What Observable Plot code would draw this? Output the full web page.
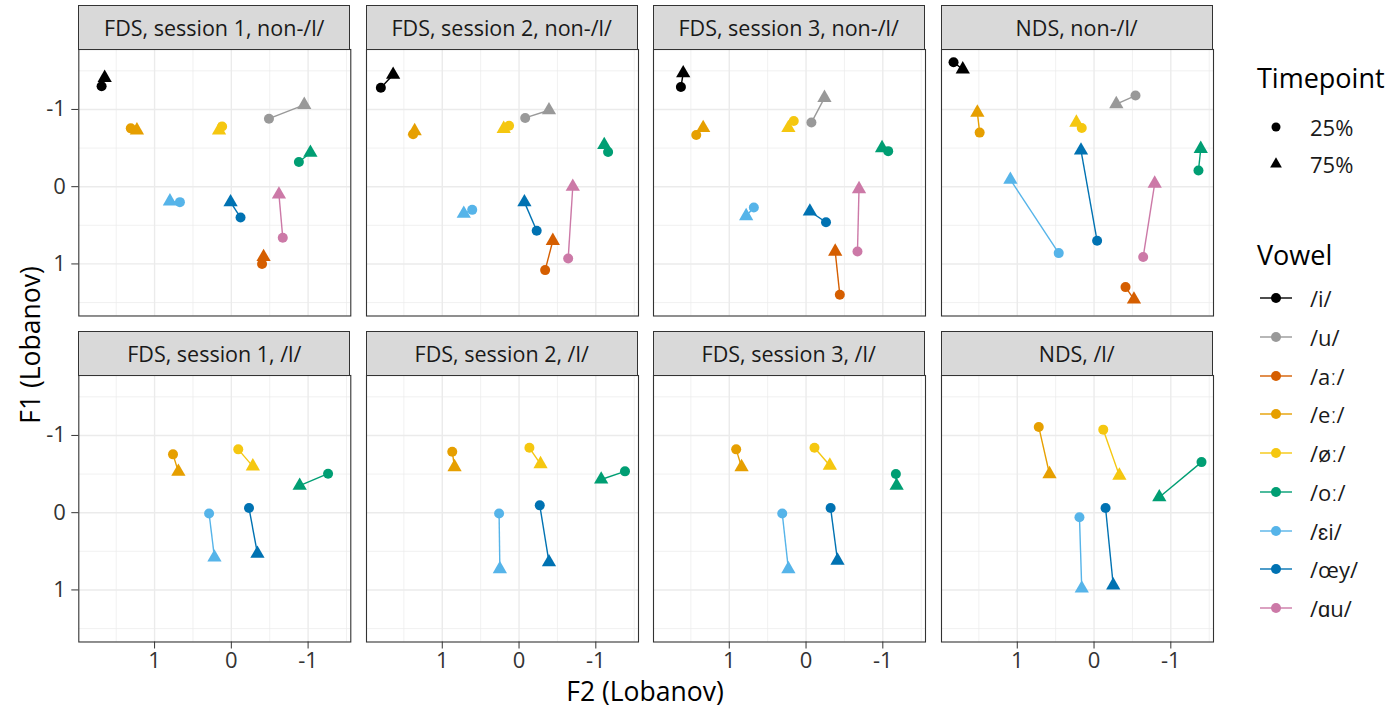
<!DOCTYPE html>
<html>
<head>
<meta charset="utf-8">
<script src="https://cdn.jsdelivr.net/npm/d3@7"></script>
<script src="https://cdn.jsdelivr.net/npm/@observablehq/plot@0.6"></script>
<style>
  html, body { margin: 0; padding: 0; background: #fff; }
  #root { position: relative; width: 1397px; height: 711px; font-family: "Open Sans", sans-serif; color: #1a1a1a; overflow: hidden; }
  .strip { position: absolute; box-sizing: border-box; background: #D9D9D9; border: 1.1px solid #333; display: flex; align-items: center; justify-content: center; font-size: 21.5px; color: #1a1a1a; }
  .ltitle { position: absolute; font-size: 27px; color: #000; line-height: 1; }
  .litem { position: absolute; font-size: 22px; color: #1a1a1a; display: flex; align-items: center; }
</style>
</head>
<body>
<div id="root"></div>
<script>
// ---------- data ----------
const vowels = ["/i/", "/u/", "/aː/", "/eː/", "/øː/", "/oː/", "/ɛi/", "/œy/", "/ɑu/"];
const vowelColors = ["#000000", "#999999", "#D55E00", "#E69F00", "#F5C710", "#009E73", "#56B4E9", "#0072B2", "#CC79A7"];
const timepoints = ["25%", "75%"];
const panelTitles = [
  "FDS, session 1, non-/l/", "FDS, session 2, non-/l/", "FDS, session 3, non-/l/", "NDS, non-/l/",
  "FDS, session 1, /l/", "FDS, session 2, /l/", "FDS, session 3, /l/", "NDS, /l/"
];
const tickValues = [-1, 0, 1];
const minorTicks = [-1.5, -0.5, 0.5, 1.5];

// rows: [vowel, F2 at 25%, F1 at 25%, F2 at 75%, F1 at 75%]
const fds1NonL = [
  ["/i/", 1.69, -1.30, 1.65, -1.41],
  ["/u/", -0.49, -0.88, -0.95, -1.06],
  ["/aː/", -0.40, 1.00, -0.42, 0.91],
  ["/eː/", 1.31, -0.755, 1.23, -0.73],
  ["/øː/", 0.12, -0.78, 0.16, -0.73],
  ["/oː/", -0.88, -0.32, -1.03, -0.44],
  ["/ɛi/", 0.67, 0.20, 0.80, 0.19],
  ["/œy/", -0.12, 0.40, 0.01, 0.20],
  ["/ɑu/", -0.67, 0.66, -0.62, 0.10]
];
const fds2NonL = [
  ["/i/", 1.80, -1.28, 1.64, -1.45],
  ["/u/", -0.08, -0.89, -0.39, -0.99],
  ["/aː/", -0.34, 1.08, -0.44, 0.70],
  ["/eː/", 1.38, -0.68, 1.36, -0.72],
  ["/øː/", 0.13, -0.79, 0.20, -0.75],
  ["/oː/", -1.16, -0.45, -1.11, -0.54],
  ["/ɛi/", 0.61, 0.30, 0.72, 0.35],
  ["/œy/", -0.23, 0.57, -0.07, 0.20],
  ["/ɑu/", -0.64, 0.93, -0.70, 0.00]
];
const fds3NonL = [
  ["/i/", 1.63, -1.29, 1.60, -1.47],
  ["/u/", -0.07, -0.83, -0.24, -1.15],
  ["/aː/", -0.44, 1.40, -0.38, 0.84],
  ["/eː/", 1.43, -0.67, 1.34, -0.76],
  ["/øː/", 0.16, -0.85, 0.23, -0.76],
  ["/oː/", -1.07, -0.46, -0.99, -0.50],
  ["/ɛi/", 0.68, 0.27, 0.78, 0.38],
  ["/œy/", -0.26, 0.46, -0.05, 0.32],
  ["/ɑu/", -0.67, 0.84, -0.69, 0.03]
];
const ndsNonL = [
  ["/i/", 1.83, -1.61, 1.71, -1.52],
  ["/u/", -0.54, -1.18, -0.29, -1.07],
  ["/aː/", -0.41, 1.30, -0.52, 1.46],
  ["/eː/", 1.49, -0.70, 1.52, -0.96],
  ["/øː/", 0.16, -0.76, 0.23, -0.83],
  ["/oː/", -1.36, -0.21, -1.39, -0.49],
  ["/ɛi/", 0.46, 0.86, 1.09, -0.09],
  ["/œy/", -0.04, 0.70, 0.17, -0.47],
  ["/ɑu/", -0.64, 0.91, -0.79, -0.04]
];
const fds1L = [
  ["/eː/", 0.76, -0.755, 0.69, -0.53],
  ["/øː/", -0.09, -0.82, -0.28, -0.60],
  ["/oː/", -1.26, -0.505, -0.89, -0.35],
  ["/ɛi/", 0.29, 0.01, 0.22, 0.58],
  ["/œy/", -0.23, -0.06, -0.34, 0.53]
];
const fds2L = [
  ["/eː/", 0.87, -0.79, 0.84, -0.59],
  ["/øː/", -0.135, -0.84, -0.28, -0.63],
  ["/oː/", -1.38, -0.535, -1.07, -0.43],
  ["/ɛi/", 0.26, 0.01, 0.25, 0.73],
  ["/œy/", -0.27, -0.095, -0.39, 0.64]
];
const fds3L = [
  ["/eː/", 0.91, -0.82, 0.84, -0.59],
  ["/øː/", -0.11, -0.84, -0.31, -0.61],
  ["/oː/", -1.17, -0.50, -1.18, -0.35],
  ["/ɛi/", 0.31, 0.01, 0.23, 0.73],
  ["/œy/", -0.32, -0.06, -0.41, 0.62]
];
const ndsL = [
  ["/eː/", 0.72, -1.11, 0.58, -0.50],
  ["/øː/", -0.12, -1.075, -0.33, -0.48],
  ["/oː/", -1.40, -0.655, -0.85, -0.20],
  ["/ɛi/", 0.19, 0.06, 0.16, 0.98],
  ["/œy/", -0.15, -0.06, -0.25, 0.94]
];
const panelData = [fds1NonL, fds2NonL, fds3NonL, ndsNonL, fds1L, fds2L, fds3L, ndsL];

// ---------- layout ----------
const root = document.getElementById("root");
const FONT = "Open Sans, sans-serif";
const panelLefts = [78.3, 365.7, 652.7, 940.7];
const panelW = 272;
const rowTops = [49, 375];
const panelH = 266.5;
const stripH = 44;
const xDomain = [-1.556, 1.987];
const yDomain = [-1.776, 1.674];

panelData.forEach((rows, i) => {
  const r = Math.floor(i / 4), c = i % 4;
  const data = rows.map(([vowel, f2a, f1a, f2b, f1b]) => ({vowel, f2a, f1a, f2b, f1b}));
  const ml = c === 0 ? 78.3 : 0;
  const mb = r === 1 ? 60 : 0;
  const marks = [
    Plot.gridX({ticks: minorTicks, stroke: "#EBEBEB", strokeOpacity: 1, strokeWidth: 0.7}),
    Plot.gridY({ticks: minorTicks, stroke: "#EBEBEB", strokeOpacity: 1, strokeWidth: 0.7}),
    Plot.gridX({ticks: tickValues, stroke: "#EBEBEB", strokeOpacity: 1, strokeWidth: 1.4}),
    Plot.gridY({ticks: tickValues, stroke: "#EBEBEB", strokeOpacity: 1, strokeWidth: 1.4}),
    Plot.link(data, {x1: "f2a", y1: "f1a", x2: "f2b", y2: "f1b", stroke: "vowel", strokeWidth: 1.4}),
    Plot.dot(data, {x: "f2a", y: "f1a", fill: "vowel", r: 5, symbol: "circle"}),
    Plot.dot(data, {x: "f2b", y: "f1b", fill: "vowel", r: 5.3, symbol: "triangle"}),
    Plot.frame({stroke: "#333", strokeWidth: 1.1})
  ];
  if (c === 0) {
    marks.push(Plot.axisY({ticks: tickValues, tickFormat: () => "", tickSize: 7, color: "#333", label: null}));
    marks.push(Plot.text(tickValues, {y: d => d, text: d => String(d), frameAnchor: "left", textAnchor: "end", dx: -13, fontSize: 22, fill: "#333"}));
  }
  if (r === 1) {
    marks.push(Plot.axisX({ticks: tickValues, tickFormat: () => "", tickSize: 7, color: "#333", label: null}));
    marks.push(Plot.text(tickValues, {x: d => d, text: d => String(d), frameAnchor: "bottom", lineAnchor: "top", dy: 10, fontSize: 22, fill: "#333"}));
  }
  const svg = Plot.plot({
    width: panelW + ml,
    height: panelH + mb,
    marginLeft: ml, marginRight: 0, marginTop: 0, marginBottom: mb,
    style: {fontFamily: FONT, background: "transparent", overflow: "visible"},
    x: {domain: xDomain, reverse: true, axis: null},
    y: {domain: yDomain, reverse: true, axis: null},
    color: {domain: vowels, range: vowelColors},
    marks
  });
  svg.style.position = "absolute";
  svg.style.left = (panelLefts[c] - ml) + "px";
  svg.style.top = rowTops[r] + "px";
  root.appendChild(svg);

  const strip = document.createElement("div");
  strip.className = "strip";
  strip.style.left = panelLefts[c] + "px";
  strip.style.top = (rowTops[r] - stripH) + "px";
  strip.style.width = panelW + "px";
  strip.style.height = (stripH + 1) + "px";
  strip.textContent = panelTitles[i];
  root.appendChild(strip);
});

// axis titles
const xt = document.createElement("div");
xt.style.cssText = "position:absolute;left:78px;width:1134px;top:673px;text-align:center;font-size:26.5px;color:#000;";
xt.textContent = "F2 (Lobanov)";
root.appendChild(xt);
const yt = document.createElement("div");
yt.style.cssText = "position:absolute;left:30px;top:345px;transform:translate(-50%,-50%) rotate(-90deg);white-space:nowrap;font-size:26.5px;color:#000;";
yt.textContent = "F1 (Lobanov)";
root.appendChild(yt);

// legend
function addTitle(text, top) {
  const d = document.createElement("div");
  d.className = "ltitle";
  d.style.left = "1257px";
  d.style.top = top + "px";
  d.textContent = text;
  root.appendChild(d);
}
function iconSvg(kind, color) {
  const ns = "http://www.w3.org/2000/svg";
  const s = document.createElementNS(ns, "svg");
  s.setAttribute("width", 40); s.setAttribute("height", 20);
  if (kind === "line") {
    const l = document.createElementNS(ns, "line");
    l.setAttribute("x1", 4); l.setAttribute("x2", 36); l.setAttribute("y1", 10); l.setAttribute("y2", 10);
    l.setAttribute("stroke", color); l.setAttribute("stroke-width", 1.4);
    s.appendChild(l);
  }
  if (kind === "triangle") {
    const p = document.createElementNS(ns, "path");
    p.setAttribute("d", d3.symbol(d3.symbolTriangle, 60)());
    p.setAttribute("transform", "translate(20,10)");
    p.setAttribute("fill", color);
    s.appendChild(p);
  } else {
    const ci = document.createElementNS(ns, "circle");
    ci.setAttribute("cx", 20); ci.setAttribute("cy", 10); ci.setAttribute("r", kind === "line" ? 5 : 4.5);
    ci.setAttribute("fill", color);
    s.appendChild(ci);
  }
  return s;
}
function addItem(kind, color, label, cy) {
  const d = document.createElement("div");
  d.className = "litem";
  d.style.left = "1256px";
  d.style.top = (cy - 15) + "px";
  d.style.height = "30px";
  const ic = iconSvg(kind, color);
  ic.style.marginRight = "14px";
  d.appendChild(ic);
  const t = document.createElement("span");
  t.textContent = label;
  d.appendChild(t);
  root.appendChild(d);
}
addTitle("Timepoint", 64);
addItem("circle", "#000", timepoints[0], 127);
addItem("triangle", "#000", timepoints[1], 164);
addTitle("Vowel", 241);
vowels.forEach((v, k) => addItem("line", vowelColors[k], v, 298 + k * 38.75));
</script>
</body>
</html>
